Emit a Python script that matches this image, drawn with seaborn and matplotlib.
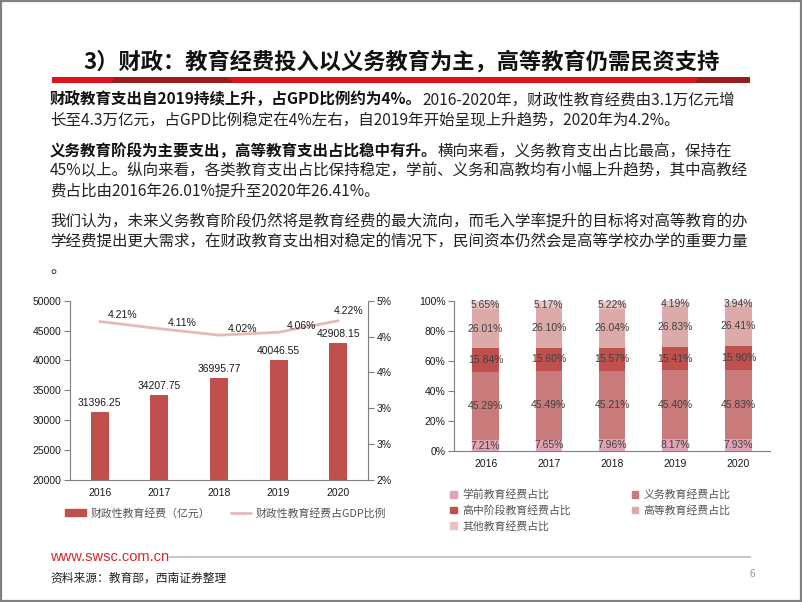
import math
import matplotlib
matplotlib.use('Agg')
import matplotlib.pyplot as plt
import numpy as np
import seaborn as sns
from matplotlib.patches import Patch, Rectangle, Polygon
from matplotlib.lines import Line2D
from matplotlib.ticker import FuncFormatter, MultipleLocator

# data
years = ['2016', '2017', '2018', '2019', '2020']
spend = [31396.25, 34207.75, 36995.77, 40046.55, 42908.15]
gdp_ratio = [4.21, 4.11, 4.02, 4.06, 4.22]

preschool = [7.21, 7.65, 7.96, 8.17, 7.93]
compulsory = [45.29, 45.49, 45.21, 45.40, 45.83]
highschool = [15.84, 15.60, 15.57, 15.41, 15.90]
higher = [26.01, 26.10, 26.04, 26.83, 26.41]
other = [5.65, 5.17, 5.22, 4.19, 3.94]

seg_names = ['学前教育经费占比', '义务教育经费占比', '高中阶段教育经费占比',
             '高等教育经费占比', '其他教育经费占比']
seg_colors = ['#e2a3b5', '#c97a7a', '#c0504d', '#ddaaaa', '#e8c4c4']

title = '3）财政：教育经费投入以义务教育为主，高等教育仍需民资支持'
body = [
    ('财政教育支出自2019持续上升，占GPD比例约为4%。', '2016-2020年，财政性教育经费由3.1万亿元增', 100),
    ('', '长至4.3万亿元，占GPD比例稳定在4%左右，自2019年开始呈现上升趋势，2020年为4.2%。', 120),
    ('义务教育阶段为主要支出，高等教育支出占比稳中有升。', '横向来看，义务教育支出占比最高，保持在', 151),
    ('', '45%以上。纵向来看，各类教育支出占比保持稳定，学前、义务和高教均有小幅上升趋势，其中高教经', 171),
    ('', '费占比由2016年26.01%提升至2020年26.41%。', 191),
    ('', '我们认为，未来义务教育阶段仍然将是教育经费的最大流向，而毛入学率提升的目标将对高等教育的办', 222),
    ('', '学经费提出更大需求，在财政教育支出相对稳定的情况下，民间资本仍然会是高等学校办学的重要力量', 242),
    ('', '。', 268),
]

sns.set_style('ticks')
plt.rcParams['font.family'] = ['Liberation Sans', 'Noto Sans CJK SC']
cjk = ['Noto Sans CJK SC', 'DejaVu Sans']

fig = plt.figure(figsize=(8.02, 6.02), dpi=100)

# slide background in pixel coordinates
bg = fig.add_axes([0, 0, 1, 1])
bg.set_xlim(0, 802)
bg.set_ylim(602, 0)
bg.axis('off')
bg.add_patch(Rectangle((0.8, 0.8), 800.4, 600.4, fill=False, ec='#808080', lw=1.6))

bg.add_patch(Rectangle((52, 77), 698, 6, color='#e0121b', lw=0))
bg.add_patch(Polygon([(110, 83), (116, 77), (226, 77), (234, 83)], color='#9b1c1c', lw=0))
bg.add_patch(Polygon([(694, 83), (700, 77), (750, 77), (750, 83)], color='#9b1c1c', lw=0))

bg.text(401, 62, title, ha='center', va='center', fontsize=16, fontweight='bold',
        family=cjk, color='#111111')

for bold, rest, y in body:
    if bold:
        t = bg.text(50, y, bold, ha='left', va='center', fontsize=11.2,
                    fontweight='bold', family=cjk, color='#111111')
        bg.annotate(rest, xy=(1, 0.5), xycoords=t, ha='left', va='center',
                    fontsize=11.2, family=cjk, color='#222222')
    else:
        bg.text(50, y, rest, ha='left', va='center', fontsize=11.2,
                family=cjk, color='#222222')

# footer
bg.text(50, 557, 'www.swsc.com.cn', ha='left', va='center', fontsize=10.5, color='#d9262e')
bg.plot([170, 750], [557, 557], color='#c8c8c8', lw=1.5)
bg.text(50, 578, '资料来源：教育部，西南证券整理', ha='left', va='center', fontsize=8.5,
        family=cjk, style='italic', color='#222222')
bg.text(752, 574, '6', ha='center', va='center', fontsize=7, color='#909090')

spine_c = '#7f7f7f'
txt_c = '#1a1a1a'

# left chart: bars + ratio line
ax1 = fig.add_axes([70 / 802, 1 - 480 / 602, 298 / 802, 179.3 / 602])
sns.barplot(x=years, y=spend, color='#c0504d', saturation=1, width=0.3, linewidth=0, ax=ax1)
ax1.set_xlim(-0.5, 4.5)
ax1.set_ylim(20000, 50000)
ax1.yaxis.set_major_locator(MultipleLocator(5000))
for i, v in enumerate(spend):
    ax1.annotate(f'{v:.2f}', (i, v), xytext=(0, 4), textcoords='offset pixels',
                 ha='center', va='bottom', fontsize=7.5, color=txt_c)

ax2 = ax1.twinx()
sns.lineplot(x=np.arange(len(years)), y=gdp_ratio, ax=ax2, color='#e6b9b8', lw=2)
ax2.set_ylim(2, 4.5)
ax2.set_yticks(np.arange(2, 4.51, 0.5))
ax2.yaxis.set_major_formatter(FuncFormatter(lambda v, p: f'{math.floor(v + 0.5 + 1e-9)}%'))
for i, v in enumerate(gdp_ratio):
    off = (10, 10) if i == len(gdp_ratio) - 1 else (23, 6)
    ax2.annotate(f'{v:.2f}%', (i, v), xytext=off, textcoords='offset pixels',
                 ha='center', va='center', fontsize=7.5, color=txt_c)

for a in (ax1, ax2):
    a.set_xlabel('')
    a.set_ylabel('')
    for s in a.spines.values():
        s.set_color(spine_c)
        s.set_linewidth(0.8)
ax1.spines['top'].set_visible(False)
ax1.spines['right'].set_visible(False)
for s in ('top', 'left', 'bottom'):
    ax2.spines[s].set_visible(False)
ax1.tick_params(axis='x', length=0, pad=6, labelsize=7.5, labelcolor=txt_c)
ax1.tick_params(axis='y', length=4, width=0.8, color=spine_c, pad=2, labelsize=7.5, labelcolor=txt_c)
ax2.tick_params(axis='y', length=4, width=0.8, color=spine_c, pad=2, labelsize=7.5, labelcolor=txt_c)

fig.legend(handles=[Patch(color='#c0504d'), Line2D([], [], color='#e6b9b8', lw=2)],
           labels=['财政性教育经费（亿元）', '财政性教育经费占GDP比例'],
           loc='center left', bbox_to_anchor=(60 / 802, 1 - 513 / 602), ncol=2,
           frameon=False, prop={'family': cjk, 'size': 7.8}, labelcolor='#555555',
           handlelength=1.9, handleheight=0.6, handletextpad=0.4, columnspacing=1.9,
           borderpad=0)

# right chart: stacked shares
ax3 = fig.add_axes([454 / 802, 1 - 451 / 602, 316 / 802, 150.3 / 602])
vals = np.array([preschool, compulsory, highschool, higher, other])
cum = np.cumsum(vals, axis=0)
for k in reversed(range(len(seg_names))):
    sns.barplot(x=years, y=cum[k], color=seg_colors[k], saturation=1, width=0.42,
                linewidth=0, ax=ax3)
for k in range(len(seg_names)):
    for i in range(len(years)):
        ax3.text(i, cum[k][i] - vals[k][i] / 2, f'{vals[k][i]:.2f}%', ha='center',
                 va='center', fontsize=7.5, color='#404040')
ax3.set_xlim(-0.5, 4.5)
ax3.set_ylim(0, 100)
ax3.yaxis.set_major_locator(MultipleLocator(20))
ax3.yaxis.set_major_formatter(FuncFormatter(lambda v, p: f'{v:.0f}%'))
ax3.set_xlabel('')
ax3.set_ylabel('')
ax3.spines['top'].set_visible(False)
ax3.spines['right'].set_visible(False)
for s in ('left', 'bottom'):
    ax3.spines[s].set_color(spine_c)
    ax3.spines[s].set_linewidth(0.8)
ax3.tick_params(axis='x', length=0, pad=6, labelsize=7.5, labelcolor=txt_c)
ax3.tick_params(axis='y', length=4, width=0.8, color=spine_c, pad=2, labelsize=7.5, labelcolor=txt_c)

order = [0, 2, 4, 1, 3]
fig.legend(handles=[Patch(color=seg_colors[k]) for k in order],
           labels=[seg_names[k] for k in order],
           loc='upper left', bbox_to_anchor=(445 / 802, 1 - 484 / 602), ncol=2,
           frameon=False, prop={'family': cjk, 'size': 7.8}, labelcolor='#555555',
           handlelength=0.6, handleheight=0.6, handletextpad=0.5, columnspacing=5.6,
           labelspacing=0.45, borderpad=0)

fig.savefig('out.png', dpi=100)
